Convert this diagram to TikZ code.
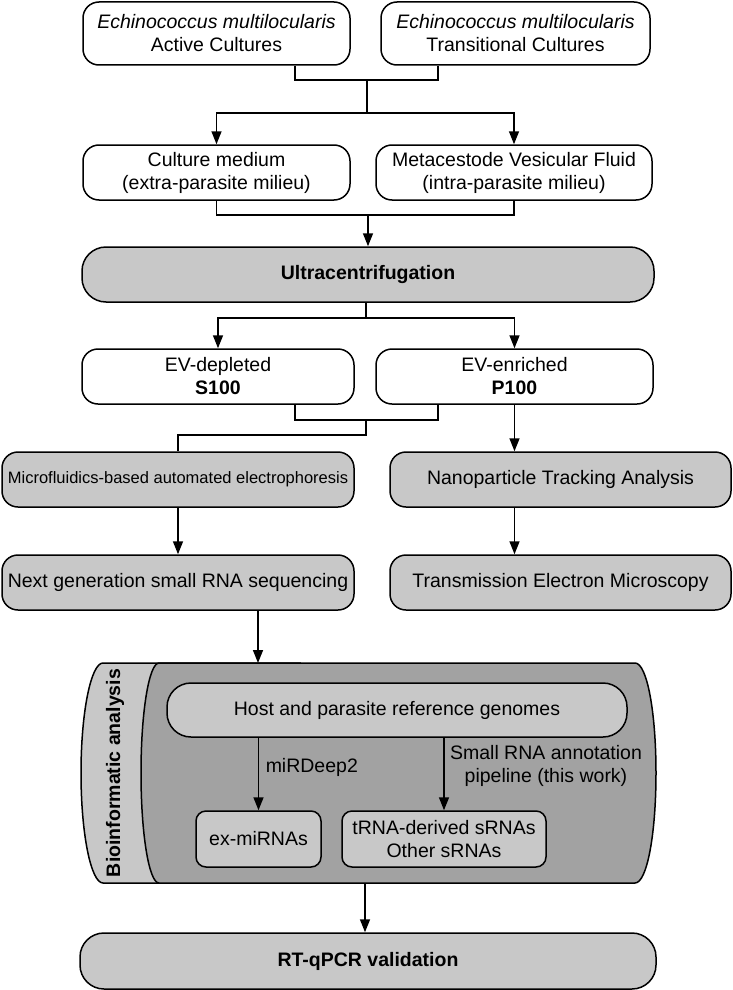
\documentclass[tikz,border=0pt]{standalone}
\usepackage{fontspec}
\setmainfont{Liberation Sans}
\usetikzlibrary{arrows.meta,positioning,calc}

\definecolor{gclair}{RGB}{200,200,200}
\definecolor{gfonce}{RGB}{162,162,162}

\begin{document}
\begin{tikzpicture}[
      x=1pt, y=-1pt,
      font=\fontsize{19.5}{23}\selectfont,
      line width=1.5pt,
      boite/.style={
        draw,
        rounded corners=16pt,
        align=center,
        inner sep=0pt
      },
      blanc/.style={
        boite,
        fill=white
      },
      gris/.style={
        boite,
        fill=gclair
      },
      arr/.style={
        -{Triangle[length=13pt,width=10pt]}
      }
    ]
    \useasboundingbox (0,0) rectangle (733,990) ;

    \node[blanc, minimum width=267, minimum height=63] (em1) at (216.5,33.5)
      {\textit{Echinococcus multilocularis}\\Active Cultures} ;
    \node[blanc, minimum width=269, minimum height=63] (em2) at (515.5,33.5)
      {\textit{Echinococcus multilocularis}\\Transitional Cultures} ;
    \node[blanc, minimum width=267, minimum height=55] (cm) at (216.5,172.5)
      {Culture medium\\(extra-parasite milieu)} ;
    \node[blanc, minimum width=276, minimum height=55] (mvf) at (514,172.5)
      {Metacestode Vesicular Fluid\\(intra-parasite milieu)} ;
    \node[gris, rounded corners=24pt, minimum width=572, minimum height=55] (uc) at (368,274.5)
      {\bfseries Ultracentrifugation} ;
    \node[blanc, minimum width=272, minimum height=55] (s100) at (218,376.5)
      {EV-depleted\\\bfseries S100} ;
    \node[blanc, minimum width=277, minimum height=55] (p100) at (514.5,376.5)
      {EV-enriched\\\bfseries P100} ;
    \node[gris, minimum width=352, minimum height=55, font=\fontsize{16.5}{20}\selectfont] (mf) at (178,479.5)
      {Microfluidics-based automated electrophoresis} ;
    \node[gris, minimum width=341, minimum height=55] (nta) at (560.5,479.5)
      {Nanoparticle Tracking Analysis} ;
    \node[gris, minimum width=352, minimum height=55] (ngs) at (178,582.5)
      {Next generation small RNA sequencing} ;
    \node[gris, minimum width=341, minimum height=55] (tem) at (560.5,582.5)
      {Transmission Electron Microscopy} ;

    % bioinformatic block
    \filldraw[fill=gclair] (103,663) .. controls (91,663) and (81,712) .. (81,773)
      .. controls (81,834) and (91,883) .. (103,883) -- (300,883) -- (300,663) -- cycle ;
    \filldraw[fill=gfonce] (159,663) .. controls (149,663) and (141,712) .. (141,773)
      .. controls (141,834) and (149,883) .. (159,883) -- (635,883)
      .. controls (647,883) and (656,834) .. (656,773)
      .. controls (656,712) and (647,663) .. (635,663) -- cycle ;
    \coordinate (bion) at (368,663) ;
    \coordinate (bios) at (365,883) ;
    \node[rotate=90, font=\fontsize{19.5}{23}\selectfont\bfseries] (bio) at (115,773)
      {Bioinformatic analysis} ;

    \node[gris, rounded corners=24pt, minimum width=460, minimum height=54] (host) at (397,710)
      {Host and parasite reference genomes} ;
    \node[gris, rounded corners=10pt, minimum width=125, minimum height=56] (exm) at (258.5,839)
      {ex-miRNAs} ;
    \node[gris, rounded corners=10pt, minimum width=204, minimum height=56] (trna) at (444,839)
      {tRNA-derived sRNAs\\Other sRNAs} ;
    \node[anchor=west, inner sep=0pt] (mird) at (265,767) {miRDeep2} ;
    \node[align=center, inner sep=0pt] (pipe) at (546,766)
      {Small RNA annotation\\pipeline (this work)} ;

    \node[gris, rounded corners=24pt, minimum width=576, minimum height=56] (rt) at (368,961)
      {\bfseries RT-qPCR validation} ;

    % connectors
    \coordinate (j1) at (367,80) ;
    \coordinate (j2) at (367,113) ;
    \draw ([xshift=78.5pt]em1.south) |- (j1) -| ([xshift=-77.5pt]em2.south) ;
    \draw (j1) -- (j2) ;
    \draw[arr] (j2) -| (cm.north) ;
    \draw[arr] (j2) -| (mvf.north) ;

    \coordinate (j3) at (368,215) ;
    \draw (cm.south) |- (j3) -| (mvf.south) ;
    \draw[arr] (j3) -- (j3 |- uc.north) ;

    \coordinate (j4) at (366,318) ;
    \draw (j4 |- uc.south) -- (j4) ;
    \draw[arr] (j4) -| (s100.north) ;
    \draw[arr] (j4) -| (p100.north) ;

    \coordinate (j5) at (366,420) ;
    \draw ([xshift=77pt]s100.south) |- (j5) -| ([xshift=-76.5pt]p100.south) ;
    \draw (j5) |- (366,435) -| (mf.north) ;
    \draw[arr] (p100.south) -- (p100.south |- nta.north) ;

    \draw[arr] (mf.south) -- (mf.south |- ngs.north) ;
    \draw[arr] (p100.south |- nta.south) -- (p100.south |- tem.north) ;
    \draw[arr] ([xshift=80pt]ngs.south) -- ([xshift=80pt]ngs.south |- bion) ;

    \draw[arr] (host.south -| exm.north) -- (exm.north) ;
    \draw[arr] (host.south -| trna.north) -- (trna.north) ;
    \draw[arr] (bios) -- (bios |- rt.north) ;
  \end{tikzpicture}
\end{document}
